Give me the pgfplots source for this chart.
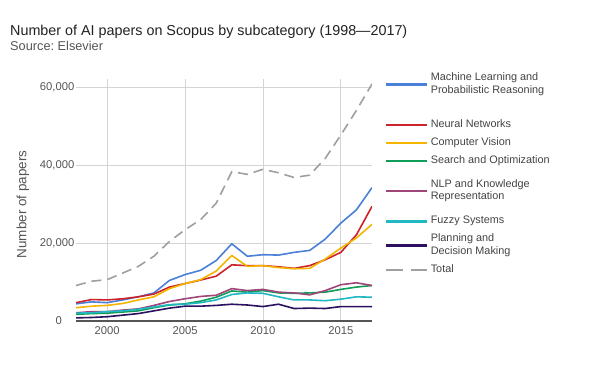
\documentclass[border=0pt]{standalone}
\usepackage{fontspec}
\setmainfont{Liberation Sans}
\usepackage{pgfplots}
\pgfplotsset{compat=1.18}
\definecolor{cML}{HTML}{4A80D9}
\definecolor{cNN}{HTML}{CC2229}
\definecolor{cCV}{HTML}{F4B400}
\definecolor{cSO}{HTML}{0F9D58}
\definecolor{cNLP}{HTML}{A0457A}
\definecolor{cFZ}{HTML}{1FB8C3}
\definecolor{cPL}{HTML}{2B1160}
\definecolor{cTot}{HTML}{A0A0A0}
\definecolor{cTitle}{HTML}{222222}
\definecolor{cSub}{HTML}{555555}
\definecolor{cTick}{HTML}{555555}
\definecolor{cLeg}{HTML}{444444}
\definecolor{cAxis}{HTML}{555555}
\pgfplotsset{totlegend/.style={legend image code/.code={\draw[##1, line width=2.6bp, dash pattern=on 16.5bp off 8bp] (0bp,0bp) -- (41bp,0bp);}}}
\frenchspacing
\begin{document}
\begin{tikzpicture}
\path[use as bounding box, fill=white] (0,0) rectangle (600bp,392bp);
\node[anchor=base west, inner sep=0pt, text=cTitle, font=\fontsize{14.4}{17}\selectfont] at (10bp,356bp) {Number of AI papers on Scopus by subcategory (1998—2017)};
\node[anchor=base west, inner sep=0pt, text=cSub, font=\fontsize{12.8}{15}\selectfont] at (10bp,341bp) {Source: Elsevier};
\begin{axis}[
  at={(76bp,71bp)}, anchor=south west,
  scale only axis, width=296bp, height=241.8bp,
  xmin=1998, xmax=2017, ymin=0, ymax=62000,
  axis x line*=bottom, axis y line*=left,
  x axis line style={draw=cAxis, line width=1.2bp, -},
  y axis line style={draw=none, -},
  major tick length=0pt,
  xtick={2000,2005,2010,2015},
  ytick={20000,40000,60000},
  extra y ticks={0},
  extra y tick style={grid=none, yticklabel style={xshift=-12.5bp}},
  grid=major, grid style={draw=black!17, line width=0.7bp},
  tick label style={font=\fontsize{11.3}{13}\selectfont, text=cTick},
  /pgf/number format/assume math mode=true,
  scaled y ticks=false,
  yticklabel style={anchor=east, inner sep=0pt, xshift=-1.5bp, /pgf/number format/1000 sep={,}},
  xticklabel style={anchor=north, inner sep=0pt, yshift=-5bp, /pgf/number format/1000 sep={}},
  ylabel={Number of papers},
  ylabel style={at={(axis description cs:-0.179,0.482)}, anchor=center, font=\fontsize{13.5}{16}\selectfont, text=cTick},
  legend style={at={(axis description cs:1.0439,1.0968)}, anchor=north west, draw=none, fill=none, inner sep=0pt, row sep=5.3bp, column sep=2bp, font=\fontsize{10.9}{12.7}\selectfont, text=cLeg, nodes={inner sep=0pt, text depth=, align=left}},
  legend cell align=left,
  legend image code/.code={\draw[#1, line width=2.6bp] (0bp,0bp) -- (41bp,0bp);},
  every axis plot/.append style={line width=1.6bp, line join=round},
]
\addplot[cML] coordinates {(1998,4400) (1999,4900) (2000,4700) (2001,5400) (2002,6200) (2003,7200) (2004,10400) (2005,11900) (2006,13000) (2007,15500) (2008,19800) (2009,16600) (2010,17000) (2011,16900) (2012,17600) (2013,18100) (2014,21000) (2015,25100) (2016,28500) (2017,34200)};
\addlegendentry[inner ysep=16bp]{\strut Machine Learning and\\\strut Probabilistic Reasoning}
\addplot[cNN] coordinates {(1998,4700) (1999,5500) (2000,5400) (2001,5700) (2002,6200) (2003,6900) (2004,8700) (2005,9600) (2006,10500) (2007,11500) (2008,14400) (2009,14200) (2010,14200) (2011,13900) (2012,13500) (2013,14200) (2014,15700) (2015,17600) (2016,22100) (2017,29400)};
\addlegendentry{\strut Neural Networks}
\addplot[cCV] coordinates {(1998,3400) (1999,3800) (2000,4000) (2001,4500) (2002,5400) (2003,6200) (2004,8300) (2005,9600) (2006,10600) (2007,12800) (2008,16800) (2009,14000) (2010,14200) (2011,13700) (2012,13400) (2013,13500) (2014,15900) (2015,18700) (2016,21300) (2017,24800)};
\addlegendentry{\strut Computer Vision}
\addplot[cSO] coordinates {(1998,1700) (1999,1900) (2000,2000) (2001,2300) (2002,2600) (2003,3400) (2004,4100) (2005,4400) (2006,5100) (2007,6100) (2008,7700) (2009,7400) (2010,7800) (2011,7200) (2012,7100) (2013,7200) (2014,7400) (2015,8100) (2016,8700) (2017,9100)};
\addlegendentry{\strut Search and Optimization}
\addplot[cNLP] coordinates {(1998,2100) (1999,2400) (2000,2400) (2001,2800) (2002,3100) (2003,4000) (2004,5000) (2005,5700) (2006,6300) (2007,6600) (2008,8300) (2009,7800) (2010,8100) (2011,7400) (2012,7200) (2013,6700) (2014,7800) (2015,9300) (2016,9800) (2017,9100)};
\addlegendentry[inner ysep=6bp]{\strut NLP and Knowledge\\\strut Representation}
\addplot[cFZ] coordinates {(1998,2000) (1999,2100) (2000,2400) (2001,2600) (2002,3000) (2003,3600) (2004,4200) (2005,4300) (2006,4700) (2007,5400) (2008,6800) (2009,7200) (2010,7100) (2011,6200) (2012,5400) (2013,5400) (2014,5200) (2015,5600) (2016,6200) (2017,6100)};
\addlegendentry{\strut Fuzzy Systems}
\addplot[cPL] coordinates {(1998,800) (1999,900) (2000,1100) (2001,1500) (2002,1900) (2003,2600) (2004,3300) (2005,3800) (2006,3800) (2007,4000) (2008,4300) (2009,4100) (2010,3700) (2011,4300) (2012,3200) (2013,3300) (2014,3200) (2015,3700) (2016,3700) (2017,3700)};
\addlegendentry{\strut Planning and\\\strut Decision Making}
\addplot[cTot, dash pattern=on 10bp off 6bp, totlegend] coordinates {(1998,9100) (1999,10200) (2000,10600) (2001,12300) (2002,14000) (2003,16600) (2004,20400) (2005,23400) (2006,26000) (2007,30200) (2008,38300) (2009,37600) (2010,38900) (2011,38000) (2012,36800) (2013,37400) (2014,41700) (2015,47700) (2016,54000) (2017,60800)};
\addlegendentry{\strut Total}
\end{axis}
\end{tikzpicture}
\end{document}
